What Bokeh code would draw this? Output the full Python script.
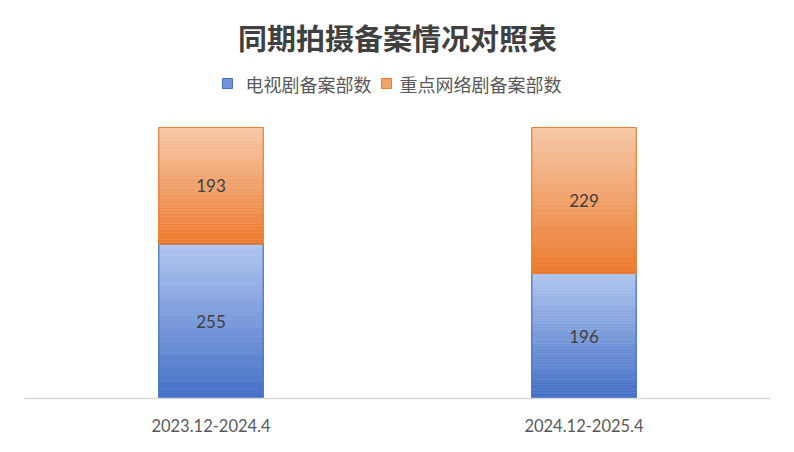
import numpy as np
from bokeh.plotting import figure
from bokeh.models import Range1d, FixedTicker
from bokeh.core.properties import value
from bokeh.embed import file_html
from bokeh.resources import INLINE

title_text = "同期拍摄备案情况对照表"
categories = ["2023.12-2024.4", "2024.12-2025.4"]
series_names = ["电视剧备案部数", "重点网络剧备案部数"]
tv_counts = [255, 196]
web_counts = [193, 229]

CJK = "Noto Sans CJK SC"
LAT = "Lato"

W, H = 778, 436
LEFT = 24
frame_h = 398.0
bar_px = 271.0
ytop = frame_h / bar_px

p = figure(width=W, height=H, output_backend="svg", toolbar_location=None,
           x_range=Range1d(0, len(categories)), y_range=Range1d(0, ytop),
           min_border_left=LEFT, min_border_right=8, min_border_top=0,
           min_border_bottom=int(H - frame_h))
p.background_fill_color = "white"
p.border_fill_color = "white"
p.outline_line_color = None
p.grid.visible = False
p.yaxis.visible = False

xs = np.arange(len(categories)) + 0.5
p.xaxis.ticker = FixedTicker(ticks=list(xs))
p.xaxis.major_label_overrides = {float(x): c for x, c in zip(xs, categories)}
p.xaxis.major_tick_line_color = None
p.xaxis.minor_tick_line_color = None
p.xaxis.axis_line_color = "#d9d9d9"
p.xaxis.axis_line_width = 1.5
p.xaxis.major_label_standoff = 14
p.xaxis.major_label_text_font = LAT
p.xaxis.major_label_text_font_size = "16.5px"
p.xaxis.major_label_text_color = "#595959"

tv = np.array(tv_counts, float)
web = np.array(web_counts, float)
tot = tv + web
tv_share = tv / tot
web_share = web / tot

bw = 0.28
blue_top, blue_bot, blue_line = np.array([0xb0, 0xc5, 0xee]), np.array([0x42, 0x6e, 0xc6]), "#4472c4"
or_top, or_bot, or_line = np.array([0xf6, 0xc9, 0xa8]), np.array([0xec, 0x78, 0x2a]), "#ed7d31"

def hexc(c):
    c = np.clip(np.round(c), 0, 255).astype(int)
    return "#%02x%02x%02x" % tuple(c)

N = 80
L, R, B, T, C = [], [], [], [], []
for i, x in enumerate(xs):
    for (b0, b1, ctop, cbot) in [(0.0, tv_share[i], blue_top, blue_bot),
                                 (tv_share[i], 1.0, or_top, or_bot)]:
        edges = np.linspace(b0, b1, N + 1)
        for k in range(N):
            t = (k + 0.5) / N  # 0 bottom -> 1 top
            L.append(x - bw / 2); R.append(x + bw / 2)
            B.append(edges[k]); T.append(edges[k + 1])
            C.append(hexc(cbot + (ctop - cbot) * t))
p.quad(left=L, right=R, bottom=B, top=T, fill_color=C, line_color=C, line_width=0.6)

# outlines
p.quad(left=xs - bw / 2, right=xs + bw / 2, bottom=[0] * len(xs), top=tv_share,
       fill_color=None, line_color=blue_line, line_width=1.2)
p.quad(left=xs - bw / 2, right=xs + bw / 2, bottom=tv_share, top=[1] * len(xs),
       fill_color=None, line_color=or_line, line_width=1.2)

# data labels
p.text(x=xs, y=tv_share / 2, text=[str(v) for v in tv_counts], text_align="center",
       text_baseline="middle", text_font=value(LAT), text_font_size="17px", text_color="#404040")
p.text(x=xs, y=tv_share + web_share / 2, text=[str(v) for v in web_counts], text_align="center",
       text_baseline="middle", text_font=value(LAT), text_font_size="17px", text_color="#404040")

def dx(px):
    return (px - LEFT) / 373.0

def dy(px):
    return (frame_h - px) / bar_px

# title
p.text(x=[dx(397)], y=[dy(36)], text=[title_text], text_align="center", text_baseline="middle",
       text_font=value(CJK), text_font_size="29px", text_font_style="bold", text_color="#404040")

# legend
leg_y = dy(83)
sq_x = [dx(227), dx(386)]
txt_x = [dx(245), dx(399)]
p.scatter(x=sq_x, y=[leg_y] * 2, marker="square", size=10,
          fill_color=["#7294dc", "#f2a26c"], line_color=[blue_line, or_line], line_width=1)
p.text(x=txt_x, y=[leg_y] * 2, text=series_names, text_align="left", text_baseline="middle",
       text_font=value(CJK), text_font_size="18px", text_color="#595959")

open("out.html", "w").write(file_html(p, INLINE))
